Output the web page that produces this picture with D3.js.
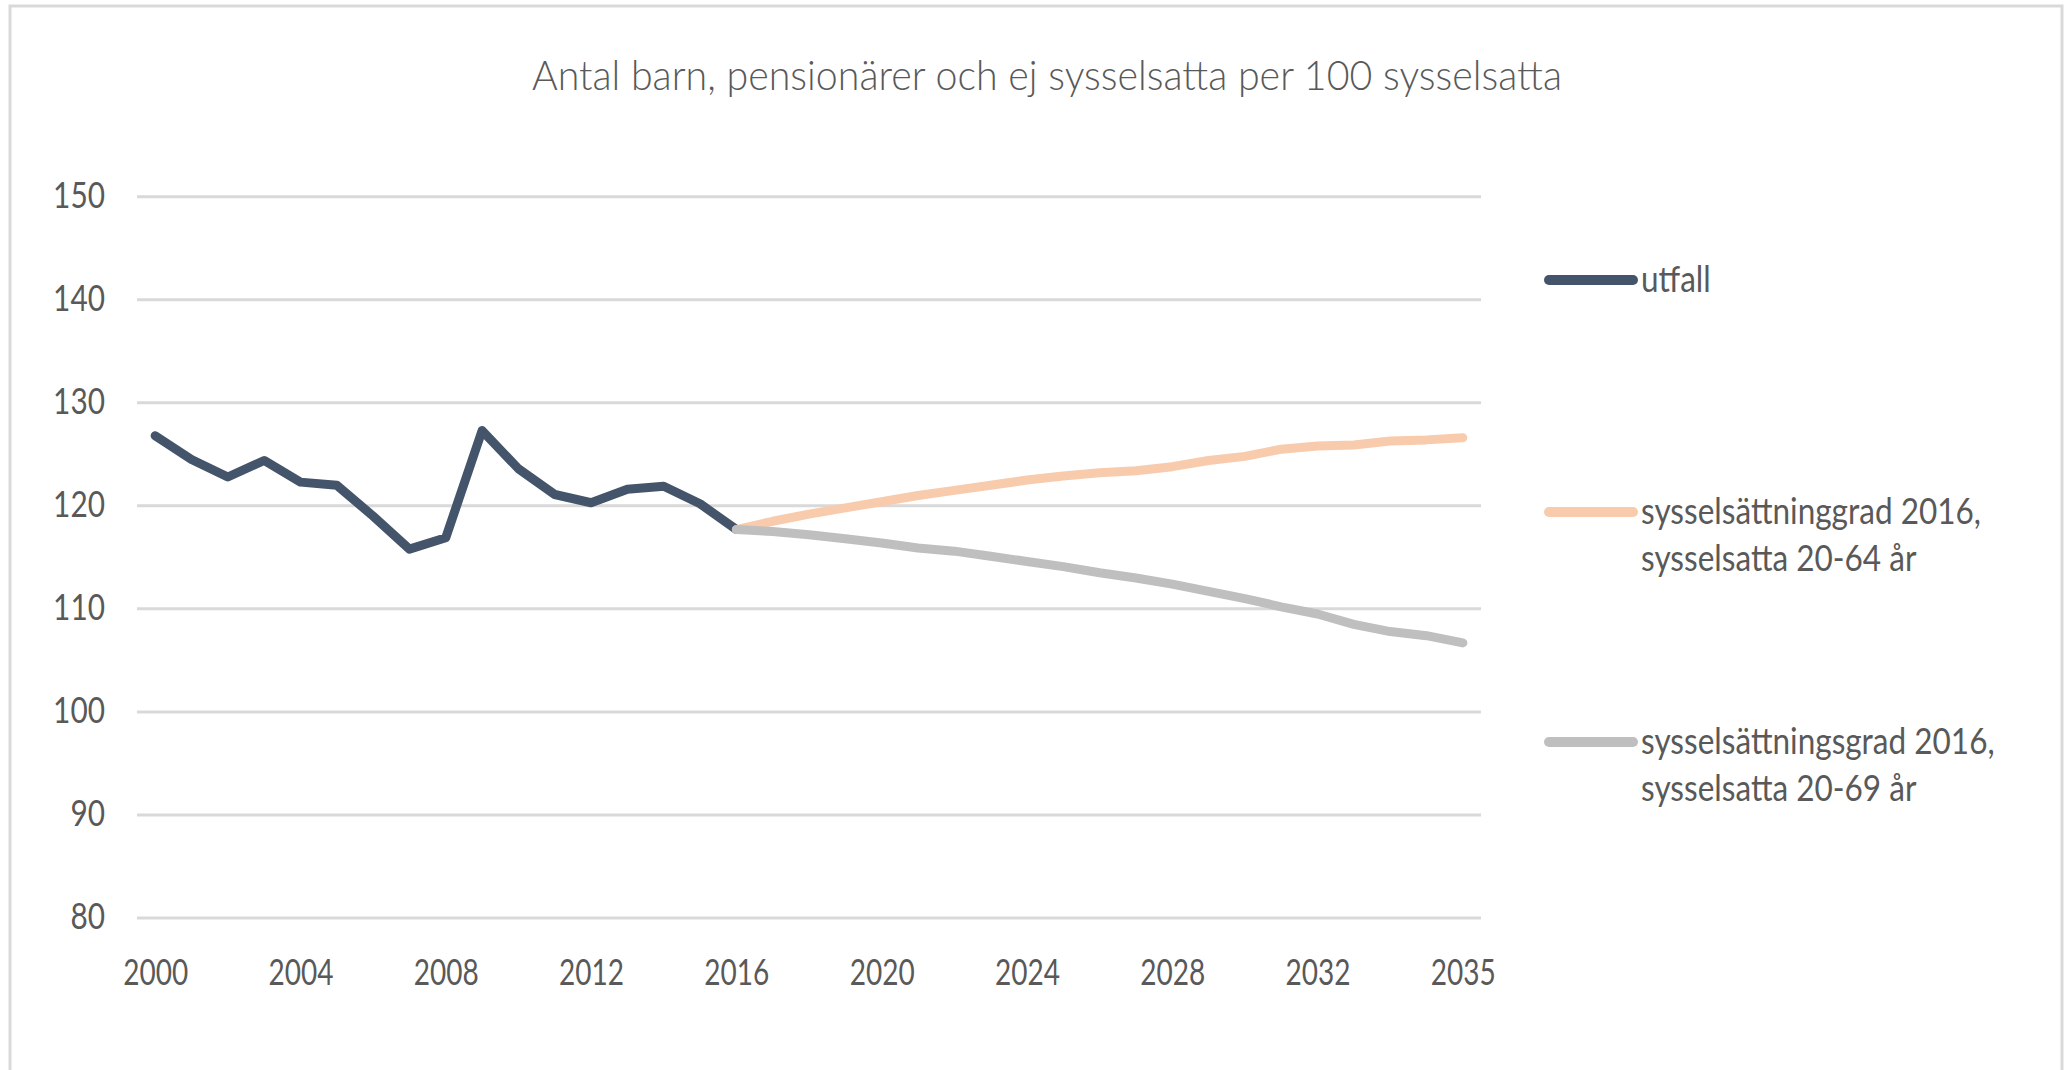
<!DOCTYPE html>
<html>
<head>
<meta charset="utf-8">
<script src="https://cdn.jsdelivr.net/npm/d3@7"></script>
<style>
  html, body { margin: 0; padding: 0; background: #ffffff; }
  svg { display: block; }
  text { font-family: Lato, "Open Sans", "Noto Sans", sans-serif; fill: #595959; }
</style>
</head>
<body>
<svg id="chart" width="2070" height="1070"></svg>
<script>
// ---- data ----
const title = "Antal barn, pensionärer och ej sysselsatta per 100 sysselsatta";

// 37 category positions on the x axis (the reference places its last label "2035" at the 37th slot)
const categories = [2000, 2001, 2002, 2003, 2004, 2005, 2006, 2007, 2008, 2009,
  2010, 2011, 2012, 2013, 2014, 2015, 2016, 2017, 2018, 2019,
  2020, 2021, 2022, 2023, 2024, 2025, 2026, 2027, 2028, 2029,
  2030, 2031, 2032, 2033, 2034, 2035, 2036];

const xTickIndex  = [0, 4, 8, 12, 16, 20, 24, 28, 32, 36];
const xTickLabels = ["2000", "2004", "2008", "2012", "2016", "2020", "2024", "2028", "2032", "2035"];
const yTicks = [80, 90, 100, 110, 120, 130, 140, 150];

const seriesNames = [
  ["utfall"],
  ["sysselsättninggrad 2016,", "sysselsatta 20-64 år"],
  ["sysselsättningsgrad 2016,", "sysselsatta 20-69 år"]
];
const seriesColors = ["#44546A", "#F8CBAD", "#BFBFBF"];

// utfall: 2000–2016
const utfall = [126.8, 124.5, 122.8, 124.4, 122.3, 122.0, 119.0, 115.8, 116.9, 127.3,
  123.6, 121.1, 120.3, 121.6, 121.9, 120.2, 117.7];

// projections start at the 2016 slot
const proj64 = [117.7, 118.5, 119.2, 119.8, 120.4, 121.0, 121.5, 122.0, 122.5, 122.9,
  123.2, 123.4, 123.8, 124.4, 124.8, 125.5, 125.8, 125.9, 126.3, 126.4, 126.6];
const proj69 = [117.7, 117.5, 117.2, 116.8, 116.4, 115.9, 115.6, 115.1, 114.6, 114.1,
  113.5, 113.0, 112.4, 111.7, 111.0, 110.2, 109.5, 108.5, 107.8, 107.4, 106.7];

// ---- layout ----
const svg = d3.select("#chart");
const plot = { left: 137, right: 1481, top: 196.7, bottom: 918 };

// chart area border
svg.append("rect")
  .attr("x", 10).attr("y", 6)
  .attr("width", 2052).attr("height", 1120)
  .attr("fill", "#ffffff")
  .attr("stroke", "#D9D9D9").attr("stroke-width", 3);

const x = d3.scalePoint()
  .domain(d3.range(categories.length))
  .range([plot.left, plot.right])
  .padding(0.5);

const y = d3.scaleLinear().domain([80, 150]).range([plot.bottom, plot.top]);

// title
svg.append("text")
  .attr("x", 532).attr("y", 90)
  .attr("font-size", 42)
  .attr("font-weight", 300)
  .attr("textLength", 1030)
  .attr("lengthAdjust", "spacingAndGlyphs")
  .text(title);

// gridlines
svg.append("g").selectAll("line")
  .data(yTicks)
  .join("line")
  .attr("x1", plot.left).attr("x2", plot.right)
  .attr("y1", d => y(d)).attr("y2", d => y(d))
  .attr("stroke", "#D9D9D9").attr("stroke-width", 3);

// y axis labels
const yAxis = d3.axisLeft(y).tickValues(yTicks).tickSize(0).tickPadding(0);
const gy = svg.append("g").attr("transform", `translate(105,0)`).call(yAxis);
gy.select(".domain").remove();
gy.selectAll("text")
  .attr("font-size", 36)
  .attr("dy", null)
  .attr("y", 10.6)
  .attr("fill", "#595959")
  .style("font-family", "Lato, 'Open Sans', sans-serif")
  .attr("textLength", d => String(d).length * 17.3)
  .attr("lengthAdjust", "spacingAndGlyphs");

// x axis labels
const xAxis = d3.axisBottom(x)
  .tickValues(xTickIndex)
  .tickFormat((d, i) => xTickLabels[i])
  .tickSize(0).tickPadding(0);
const gx = svg.append("g").attr("transform", `translate(0,985)`).call(xAxis);
gx.select(".domain").remove();
gx.selectAll("text")
  .attr("font-size", 36)
  .attr("dy", null)
  .attr("y", 0)
  .attr("fill", "#595959")
  .style("font-family", "Lato, 'Open Sans', sans-serif")
  .attr("textLength", 65)
  .attr("lengthAdjust", "spacingAndGlyphs");

// series lines
const utfallPts = utfall.map((v, i) => [i, v]);
const p64Pts = proj64.map((v, i) => [i + 16, v]);
const p69Pts = proj69.map((v, i) => [i + 16, v]);
const allSeries = [utfallPts, p64Pts, p69Pts];

const line = d3.line()
  .x(d => x(d[0]))
  .y(d => y(d[1]));

svg.append("g").selectAll("path")
  .data(allSeries)
  .join("path")
  .attr("d", line)
  .attr("fill", "none")
  .attr("stroke", (d, i) => seriesColors[i])
  .attr("stroke-width", 9)
  .attr("stroke-linejoin", "round")
  .attr("stroke-linecap", "round");

// legend
const legendY = [280, 512, 742];
const lg = svg.append("g");
const legendTexts = [];
seriesNames.forEach((lines, i) => {
  lg.append("line")
    .attr("x1", 1549).attr("x2", 1633)
    .attr("y1", legendY[i]).attr("y2", legendY[i])
    .attr("stroke", seriesColors[i])
    .attr("stroke-width", 10)
    .attr("stroke-linecap", "round");
  lines.forEach((t, j) => {
    const el = lg.append("text")
      .attr("x", 1641)
      .attr("y", legendY[i] + 12 + j * 47)
      .attr("font-size", 36)
      .text(t);
    legendTexts.push(el);
  });
});
// uniform horizontal compression for the legend, matched to the first long line
const refW = legendTexts[1].node().getComputedTextLength();
const k = 340 / refW;
legendTexts.forEach(el => {
  const w = el.node().getComputedTextLength();
  el.attr("textLength", w * k).attr("lengthAdjust", "spacingAndGlyphs");
});
</script>
</body>
</html>
